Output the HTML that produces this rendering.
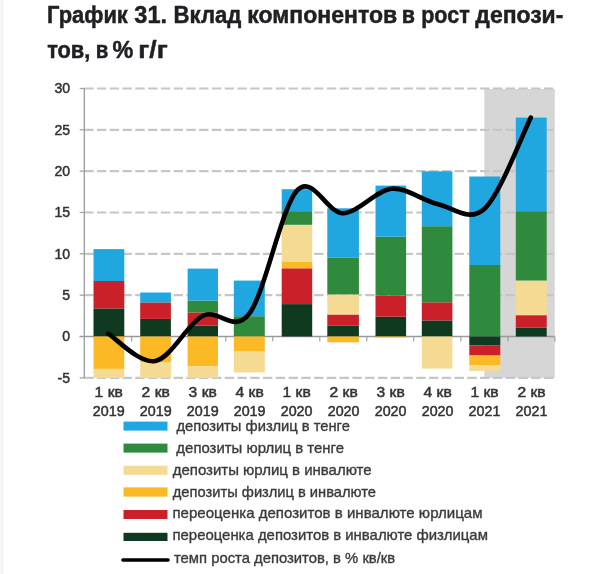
<!DOCTYPE html>
<html><head><meta charset="utf-8"><style>
html,body{margin:0;padding:0;background:#fff;width:610px;height:574px;overflow:hidden}
svg{display:block;position:absolute;left:0;top:0;filter:blur(0.65px)}
.ti{font-family:"Liberation Sans",sans-serif;font-weight:bold;font-size:24px;fill:#1f1f24;stroke:#1f1f24;stroke-width:0.5px}
.ax{font-family:"Liberation Sans",sans-serif;font-size:14.4px;fill:#333;stroke:#333;stroke-width:0.5px}
.yl{font-size:14px}
.lg{font-family:"Liberation Sans",sans-serif;font-size:15px;fill:#3a3a3a;stroke:#3a3a3a;stroke-width:0.35px}
</style></head><body>
<div style="position:absolute;left:0;top:0;width:2px;height:574px;background:#f7f7f9;border-right:1px solid #eeeef2"></div>
<svg width="610" height="574" viewBox="0 0 610 574">
<rect x="484.3" y="89" width="70.5" height="288.8" fill="#d6d6d6"/>
<line x1="84.2" y1="88.5" x2="555" y2="88.5" stroke="#c6c6c6" stroke-width="2.2" stroke-dasharray="9.4,3.37"/>
<line x1="79.7" y1="88.5" x2="84.3" y2="88.5" stroke="#a6a6a6" stroke-width="1.3"/>
<line x1="84.2" y1="129.8" x2="555" y2="129.8" stroke="#c6c6c6" stroke-width="2.2" stroke-dasharray="9.4,3.37"/>
<line x1="79.7" y1="129.8" x2="84.3" y2="129.8" stroke="#a6a6a6" stroke-width="1.3"/>
<line x1="84.2" y1="171.2" x2="555" y2="171.2" stroke="#c6c6c6" stroke-width="2.2" stroke-dasharray="9.4,3.37"/>
<line x1="79.7" y1="171.2" x2="84.3" y2="171.2" stroke="#a6a6a6" stroke-width="1.3"/>
<line x1="84.2" y1="212.5" x2="555" y2="212.5" stroke="#c6c6c6" stroke-width="2.2" stroke-dasharray="9.4,3.37"/>
<line x1="79.7" y1="212.5" x2="84.3" y2="212.5" stroke="#a6a6a6" stroke-width="1.3"/>
<line x1="84.2" y1="253.8" x2="555" y2="253.8" stroke="#c6c6c6" stroke-width="2.2" stroke-dasharray="9.4,3.37"/>
<line x1="79.7" y1="253.8" x2="84.3" y2="253.8" stroke="#a6a6a6" stroke-width="1.3"/>
<line x1="84.2" y1="295.2" x2="555" y2="295.2" stroke="#c6c6c6" stroke-width="2.2" stroke-dasharray="9.4,3.37"/>
<line x1="79.7" y1="295.2" x2="84.3" y2="295.2" stroke="#a6a6a6" stroke-width="1.3"/>
<line x1="84.2" y1="377.9" x2="555" y2="377.9" stroke="#c6c6c6" stroke-width="2.2" stroke-dasharray="9.4,3.37"/>
<line x1="79.7" y1="377.9" x2="84.3" y2="377.9" stroke="#a6a6a6" stroke-width="1.3"/>
<line x1="84.3" y1="88.2" x2="84.3" y2="378" stroke="#9a9a9a" stroke-width="1.3"/>
<line x1="79.5" y1="336.5" x2="554.8" y2="336.5" stroke="#9a9a9a" stroke-width="1.3"/>
<line x1="131.7" y1="336.5" x2="131.7" y2="341.5" stroke="#9a9a9a" stroke-width="1.1"/>
<line x1="178.7" y1="336.5" x2="178.7" y2="341.5" stroke="#9a9a9a" stroke-width="1.1"/>
<line x1="225.8" y1="336.5" x2="225.8" y2="341.5" stroke="#9a9a9a" stroke-width="1.1"/>
<line x1="272.8" y1="336.5" x2="272.8" y2="341.5" stroke="#9a9a9a" stroke-width="1.1"/>
<line x1="319.8" y1="336.5" x2="319.8" y2="341.5" stroke="#9a9a9a" stroke-width="1.1"/>
<line x1="366.8" y1="336.5" x2="366.8" y2="341.5" stroke="#9a9a9a" stroke-width="1.1"/>
<line x1="413.8" y1="336.5" x2="413.8" y2="341.5" stroke="#9a9a9a" stroke-width="1.1"/>
<line x1="460.9" y1="336.5" x2="460.9" y2="341.5" stroke="#9a9a9a" stroke-width="1.1"/>
<line x1="507.9" y1="336.5" x2="507.9" y2="341.5" stroke="#9a9a9a" stroke-width="1.1"/>
<line x1="554.9" y1="336.5" x2="554.9" y2="341.5" stroke="#9a9a9a" stroke-width="1.1"/>
<rect x="93.5" y="308.4" width="30.8" height="28.1" fill="#0f3a20"/>
<rect x="93.5" y="281.0" width="30.8" height="27.4" fill="#c9202a"/>
<rect x="93.5" y="249.1" width="30.8" height="31.9" fill="#21a7df"/>
<rect x="93.5" y="336.5" width="30.8" height="32.4" fill="#fbb925"/>
<rect x="93.5" y="368.9" width="30.8" height="9.1" fill="#f4da92"/>
<rect x="140.2" y="318.9" width="30.7" height="17.6" fill="#0f3a20"/>
<rect x="140.2" y="302.4" width="30.7" height="16.5" fill="#c9202a"/>
<rect x="140.2" y="292.5" width="30.7" height="9.9" fill="#21a7df"/>
<rect x="140.2" y="336.5" width="30.7" height="25.5" fill="#fbb925"/>
<rect x="140.2" y="362.0" width="30.7" height="16.0" fill="#f4da92"/>
<rect x="187.6" y="325.7" width="30.4" height="10.8" fill="#0f3a20"/>
<rect x="187.6" y="312.4" width="30.4" height="13.3" fill="#c9202a"/>
<rect x="187.6" y="300.6" width="30.4" height="11.8" fill="#2f8a3e"/>
<rect x="187.6" y="268.6" width="30.4" height="32.0" fill="#21a7df"/>
<rect x="187.6" y="336.5" width="30.4" height="29.7" fill="#fbb925"/>
<rect x="187.6" y="366.2" width="30.4" height="11.8" fill="#f4da92"/>
<rect x="233.8" y="316.2" width="31.0" height="20.3" fill="#2f8a3e"/>
<rect x="233.8" y="280.6" width="31.0" height="35.6" fill="#21a7df"/>
<rect x="233.8" y="336.5" width="31.0" height="15.1" fill="#fbb925"/>
<rect x="233.8" y="351.6" width="31.0" height="20.9" fill="#f4da92"/>
<rect x="281.7" y="304.1" width="30.5" height="32.4" fill="#0f3a20"/>
<rect x="281.7" y="268.3" width="30.5" height="35.8" fill="#c9202a"/>
<rect x="281.7" y="261.4" width="30.5" height="6.9" fill="#fbb925"/>
<rect x="281.7" y="224.8" width="30.5" height="36.6" fill="#f4da92"/>
<rect x="281.7" y="211.2" width="30.5" height="13.6" fill="#2f8a3e"/>
<rect x="281.7" y="189.2" width="30.5" height="22.0" fill="#21a7df"/>
<rect x="327.3" y="325.8" width="31.6" height="10.7" fill="#0f3a20"/>
<rect x="327.3" y="314.5" width="31.6" height="11.3" fill="#c9202a"/>
<rect x="327.3" y="294.4" width="31.6" height="20.1" fill="#f4da92"/>
<rect x="327.3" y="257.8" width="31.6" height="36.6" fill="#2f8a3e"/>
<rect x="327.3" y="208.3" width="31.6" height="49.5" fill="#21a7df"/>
<rect x="327.3" y="336.5" width="31.6" height="5.8" fill="#fbb925"/>
<rect x="375.5" y="316.7" width="30.6" height="19.8" fill="#0f3a20"/>
<rect x="375.5" y="295.6" width="30.6" height="21.1" fill="#c9202a"/>
<rect x="375.5" y="236.7" width="30.6" height="58.9" fill="#2f8a3e"/>
<rect x="375.5" y="185.6" width="30.6" height="51.1" fill="#21a7df"/>
<rect x="375.5" y="336.5" width="30.6" height="1.0" fill="#fbb925"/>
<rect x="421.8" y="320.4" width="30.6" height="16.1" fill="#0f3a20"/>
<rect x="421.8" y="302.3" width="30.6" height="18.1" fill="#c9202a"/>
<rect x="421.8" y="226.2" width="30.6" height="76.1" fill="#2f8a3e"/>
<rect x="421.8" y="171.3" width="30.6" height="54.9" fill="#21a7df"/>
<rect x="421.8" y="336.5" width="30.6" height="32.1" fill="#f4da92"/>
<rect x="469.3" y="265.0" width="31.0" height="71.5" fill="#2f8a3e"/>
<rect x="469.3" y="176.5" width="31.0" height="88.5" fill="#21a7df"/>
<rect x="469.3" y="336.5" width="31.0" height="9.0" fill="#0f3a20"/>
<rect x="469.3" y="345.5" width="31.0" height="10.0" fill="#c9202a"/>
<rect x="469.3" y="355.5" width="31.0" height="9.7" fill="#fbb925"/>
<rect x="469.3" y="365.2" width="31.0" height="5.7" fill="#f4da92"/>
<rect x="515.8" y="327.6" width="30.9" height="8.9" fill="#0f3a20"/>
<rect x="515.8" y="315.2" width="30.9" height="12.4" fill="#c9202a"/>
<rect x="515.8" y="280.5" width="30.9" height="34.7" fill="#f4da92"/>
<rect x="515.8" y="211.2" width="30.9" height="69.3" fill="#2f8a3e"/>
<rect x="515.8" y="117.6" width="30.9" height="93.6" fill="#21a7df"/>
<path d="M108.3,333.8 C116.1,338.3 139.5,364.0 155.3,361.0 C171.1,358.0 187.3,323.7 203.0,315.8 C218.7,307.9 233.6,334.6 249.3,313.7 C265.0,292.8 281.5,207.2 297.1,190.4 C312.7,173.7 327.2,213.5 342.9,213.2 C358.6,212.9 375.7,190.4 391.4,188.8 C407.1,187.2 421.8,200.6 437.3,203.9 C452.8,207.2 468.9,223.1 484.5,208.7 C500.1,194.3 523.1,132.8 530.8,117.6" fill="none" stroke="#000" stroke-width="4.6" stroke-linecap="round" stroke-linejoin="round"/>
<text x="70" y="93.4" text-anchor="end" class="ax yl">30</text>
<text x="70" y="134.7" text-anchor="end" class="ax yl">25</text>
<text x="70" y="176.1" text-anchor="end" class="ax yl">20</text>
<text x="70" y="217.4" text-anchor="end" class="ax yl">15</text>
<text x="70" y="258.8" text-anchor="end" class="ax yl">10</text>
<text x="70" y="300.1" text-anchor="end" class="ax yl">5</text>
<text x="70" y="382.8" text-anchor="end" class="ax yl">-5</text>
<text x="70" y="341.4" text-anchor="end" class="ax yl">0</text>
<text x="108.7" y="397" text-anchor="middle" class="ax" textLength="28.2" lengthAdjust="spacingAndGlyphs">1 кв</text>
<text x="108.7" y="416" text-anchor="middle" class="ax" textLength="31.8" lengthAdjust="spacingAndGlyphs">2019</text>
<text x="155.7" y="397" text-anchor="middle" class="ax" textLength="28.2" lengthAdjust="spacingAndGlyphs">2 кв</text>
<text x="155.7" y="416" text-anchor="middle" class="ax" textLength="31.8" lengthAdjust="spacingAndGlyphs">2019</text>
<text x="202.7" y="397" text-anchor="middle" class="ax" textLength="28.2" lengthAdjust="spacingAndGlyphs">3 кв</text>
<text x="202.7" y="416" text-anchor="middle" class="ax" textLength="31.8" lengthAdjust="spacingAndGlyphs">2019</text>
<text x="249.6" y="397" text-anchor="middle" class="ax" textLength="28.2" lengthAdjust="spacingAndGlyphs">4 кв</text>
<text x="249.6" y="416" text-anchor="middle" class="ax" textLength="31.8" lengthAdjust="spacingAndGlyphs">2019</text>
<text x="296.6" y="397" text-anchor="middle" class="ax" textLength="28.2" lengthAdjust="spacingAndGlyphs">1 кв</text>
<text x="296.6" y="416" text-anchor="middle" class="ax" textLength="31.8" lengthAdjust="spacingAndGlyphs">2020</text>
<text x="343.6" y="397" text-anchor="middle" class="ax" textLength="28.2" lengthAdjust="spacingAndGlyphs">2 кв</text>
<text x="343.6" y="416" text-anchor="middle" class="ax" textLength="31.8" lengthAdjust="spacingAndGlyphs">2020</text>
<text x="390.6" y="397" text-anchor="middle" class="ax" textLength="28.2" lengthAdjust="spacingAndGlyphs">3 кв</text>
<text x="390.6" y="416" text-anchor="middle" class="ax" textLength="31.8" lengthAdjust="spacingAndGlyphs">2020</text>
<text x="437.6" y="397" text-anchor="middle" class="ax" textLength="28.2" lengthAdjust="spacingAndGlyphs">4 кв</text>
<text x="437.6" y="416" text-anchor="middle" class="ax" textLength="31.8" lengthAdjust="spacingAndGlyphs">2020</text>
<text x="484.5" y="397" text-anchor="middle" class="ax" textLength="28.2" lengthAdjust="spacingAndGlyphs">1 кв</text>
<text x="484.5" y="416" text-anchor="middle" class="ax" textLength="31.8" lengthAdjust="spacingAndGlyphs">2021</text>
<text x="531.5" y="397" text-anchor="middle" class="ax" textLength="28.2" lengthAdjust="spacingAndGlyphs">2 кв</text>
<text x="531.5" y="416" text-anchor="middle" class="ax" textLength="31.8" lengthAdjust="spacingAndGlyphs">2021</text>
<text x="47.12" y="22.6" class="ti" textLength="80.70" lengthAdjust="spacingAndGlyphs">График</text>
<text x="134.36" y="22.6" class="ti" textLength="32.71" lengthAdjust="spacingAndGlyphs">31.</text>
<text x="173.54" y="22.6" class="ti" textLength="67.79" lengthAdjust="spacingAndGlyphs">Вклад</text>
<text x="247.36" y="22.6" class="ti" textLength="149.77" lengthAdjust="spacingAndGlyphs">компонентов</text>
<text x="401.84" y="22.6" class="ti" textLength="13.20" lengthAdjust="spacingAndGlyphs">в</text>
<text x="421.22" y="22.6" class="ti" textLength="48.49" lengthAdjust="spacingAndGlyphs">рост</text>
<text x="475.36" y="22.6" class="ti" textLength="87.93" lengthAdjust="spacingAndGlyphs">депози-</text>
<text x="47.15" y="57.6" class="ti" textLength="43.10" lengthAdjust="spacingAndGlyphs">тов,</text>
<text x="95.69" y="57.6" class="ti" textLength="12.55" lengthAdjust="spacingAndGlyphs">в</text>
<text x="112.60" y="57.6" class="ti" textLength="20.80" lengthAdjust="spacingAndGlyphs">%</text>
<text x="138.32" y="57.6" class="ti" textLength="29.34" lengthAdjust="spacingAndGlyphs">г/г</text>
<rect x="123.5" y="421.6" width="44" height="9.0" fill="#21a7df"/>
<text x="176.38" y="430.8" class="lg" textLength="173.47" lengthAdjust="spacingAndGlyphs">депозиты физлиц в тенге</text>
<rect x="123.5" y="443.6" width="44" height="9.0" fill="#2f8a3e"/>
<text x="176.37" y="452.7" class="lg" textLength="167.62" lengthAdjust="spacingAndGlyphs">депозиты юрлиц в тенге</text>
<rect x="123.5" y="465.7" width="44" height="9.1" fill="#f4da92"/>
<text x="172.74" y="474.8" class="lg" textLength="198.87" lengthAdjust="spacingAndGlyphs">депозиты юрлиц в инвалюте</text>
<rect x="123.5" y="487.4" width="44" height="9.2" fill="#fbb925"/>
<text x="172.74" y="496.6" class="lg" textLength="203.28" lengthAdjust="spacingAndGlyphs">депозиты физлиц в инвалюте</text>
<rect x="123.5" y="510.0" width="44" height="9.0" fill="#c9202a"/>
<text x="172.48" y="518.4" class="lg" textLength="310.07" lengthAdjust="spacingAndGlyphs">переоценка депозитов в инвалюте юрлицам</text>
<rect x="123.5" y="532.8" width="44" height="8.2" fill="#0f3a20"/>
<text x="172.51" y="540.2" class="lg" textLength="315.38" lengthAdjust="spacingAndGlyphs">переоценка депозитов в инвалюте физлицам</text>
<text x="173.97" y="563.0" class="lg" textLength="221.26" lengthAdjust="spacingAndGlyphs">темп роста депозитов, в % кв/кв</text>
<line x1="123" y1="560" x2="168" y2="560" stroke="#000" stroke-width="3.6" stroke-linecap="round"/>
</svg>
</body></html>
